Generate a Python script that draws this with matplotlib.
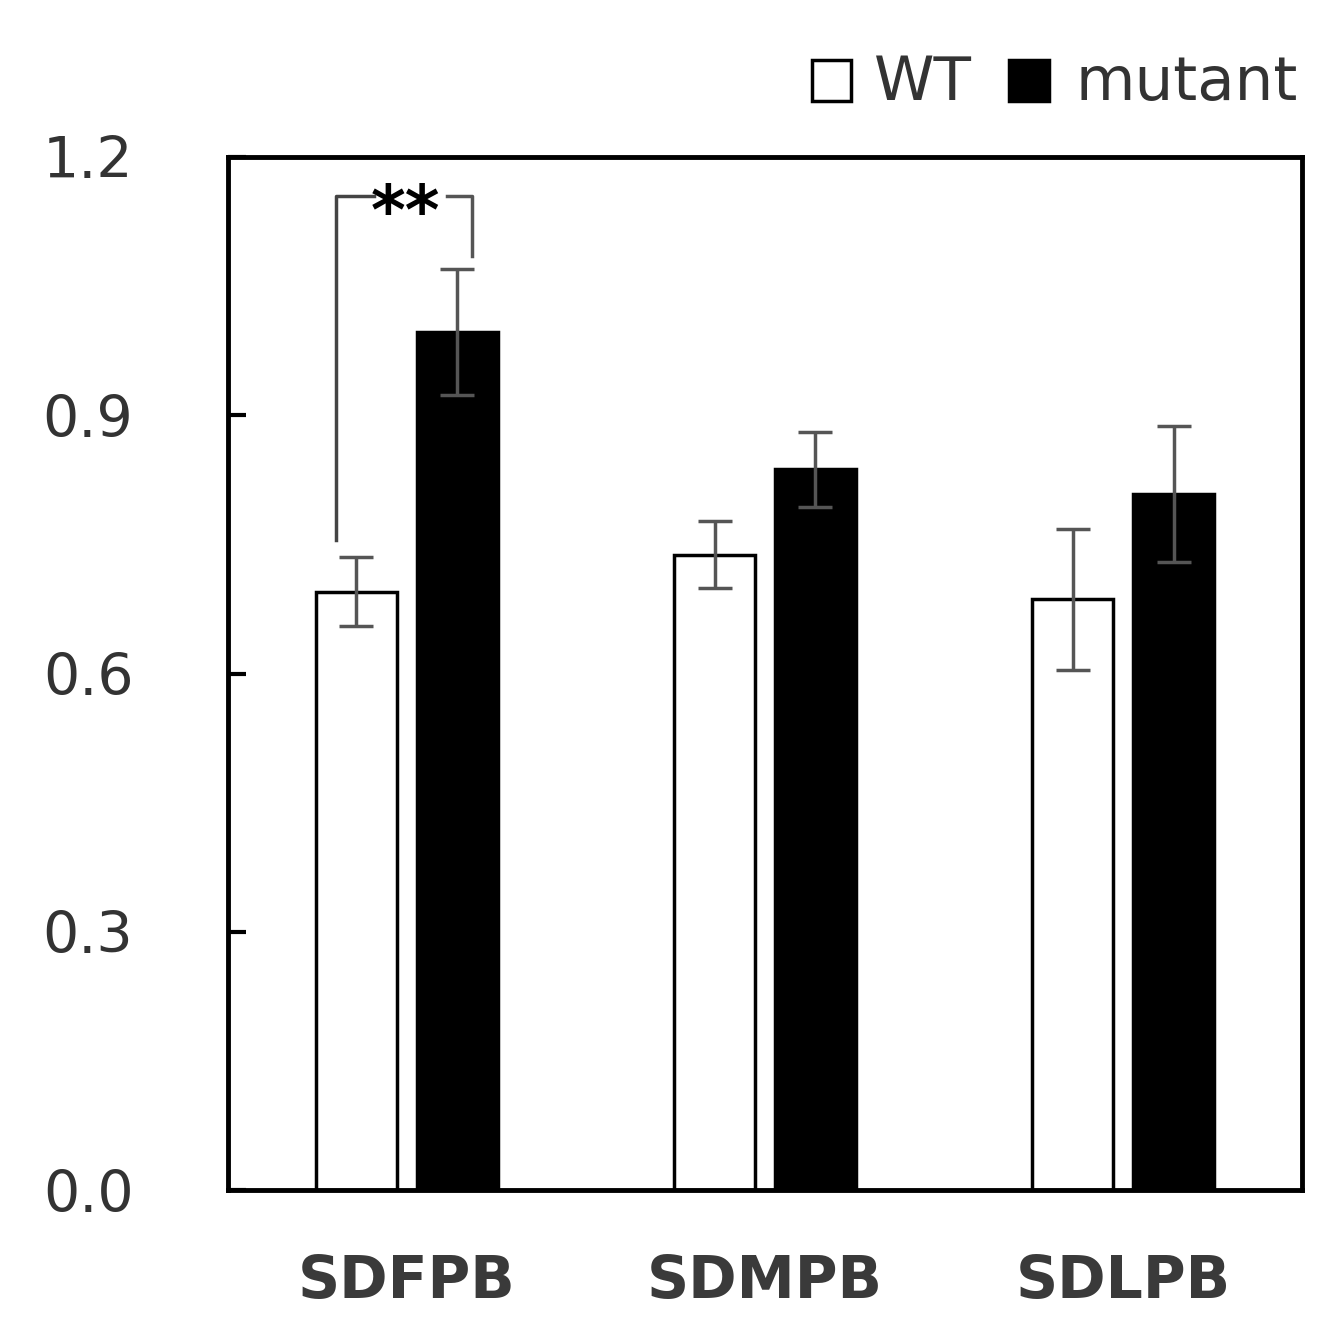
import numpy as np
import matplotlib.pyplot as plt
from matplotlib.patches import Rectangle

categories = ['SDFPB', 'SDMPB', 'SDLPB']
wt_mean = [0.695, 0.738, 0.686]
wt_err = [0.040, 0.039, 0.082]
mut_mean = [0.997, 0.837, 0.808]
mut_err = [0.073, 0.044, 0.079]
yticks = [0.0, 0.3, 0.6, 0.9, 1.2]

fig = plt.figure(figsize=(13.44, 13.43), dpi=100)
ax = fig.add_axes([0.1696, 0.1139, 0.7992, 0.7692])

x = np.arange(len(categories))
w = 0.226
off = 0.141
ax.bar(x - off, wt_mean, w, color='white', edgecolor='black', linewidth=2.5, zorder=2)
ax.bar(x + off, mut_mean, w, color='black', edgecolor='black', linewidth=2.5, zorder=2)
ax.errorbar(x - off, wt_mean, yerr=wt_err, fmt='none', ecolor='#555555', elinewidth=2.5, capsize=12, capthick=2.5, zorder=3)
ax.errorbar(x + off, mut_mean, yerr=mut_err, fmt='none', ecolor='#555555', elinewidth=2.5, capsize=12, capthick=2.5, zorder=3)

ax.set_xlim(-0.5, 2.5)
ax.set_ylim(0, 1.2)
ax.set_yticks(yticks)
ax.set_yticklabels([f'{t:.1f}' for t in yticks], fontsize=41, color='#333333')
ax.set_xticks(x)
ax.set_xticklabels(categories, fontsize=42, fontweight='bold', color='#3a3a3a')
ax.tick_params(axis='y', direction='in', length=13, width=3, pad=68)
ax.tick_params(axis='x', length=0, pad=45)
for s in ax.spines.values():
    s.set_linewidth(3.5)

# significance bracket
bx0 = x[0] - off - 0.057
bx1 = x[0] + off + 0.04
ytop = 1.155
ax.plot([bx0, bx0, bx0 + 0.105], [0.755, ytop, ytop], color='#444444', lw=2.5, zorder=4)
ax.plot([bx1 - 0.07, bx1, bx1], [ytop, ytop, 1.085], color='#555555', lw=2.5, zorder=4)
ax.text(-0.003, ytop - 0.022, '**', ha='center', va='center', fontsize=48, fontweight='bold')

# legend
fig.patches.append(Rectangle((0.604, 0.925), 0.029, 0.03, transform=fig.transFigure,
                             facecolor='white', edgecolor='black', linewidth=2.5))
fig.text(0.650, 0.938, 'WT', fontsize=44, color='#333333', va='center')
fig.patches.append(Rectangle((0.751, 0.925), 0.0295, 0.03, transform=fig.transFigure,
                             facecolor='black', edgecolor='black', linewidth=2.5))
fig.text(0.800, 0.938, 'mutant', fontsize=44, color='#333333', va='center')

fig.savefig('out.png', dpi=100)
